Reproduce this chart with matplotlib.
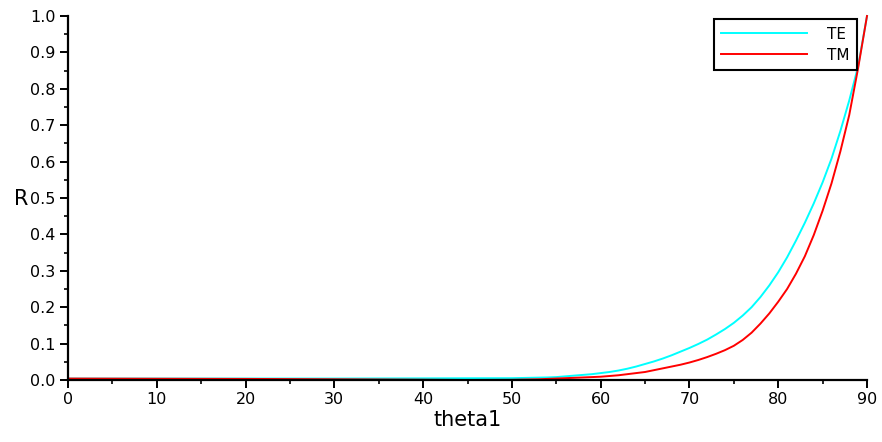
import matplotlib
matplotlib.use("Agg")
import matplotlib.pyplot as plt
from matplotlib.ticker import MultipleLocator, FormatStrFormatter

# values (angle in degrees, reflectance)
theta_te = [0, 10, 20, 30, 40, 45, 50, 51, 52, 53, 54, 55, 56, 57, 58, 59,
            60, 61, 62, 63, 64, 65, 66, 67, 68, 69, 70, 71, 72, 73, 74, 75,
            76, 77, 78, 79, 80, 81, 82, 83, 84, 85, 86, 87, 88, 89, 90]
r_te = [0.004, 0.004, 0.004, 0.004, 0.0045, 0.0048, 0.005, 0.0055, 0.006,
        0.0065, 0.007, 0.008, 0.010, 0.012, 0.014, 0.016, 0.019, 0.022,
        0.026, 0.031, 0.037, 0.044, 0.051, 0.059, 0.068, 0.078, 0.088,
        0.099, 0.111, 0.125, 0.140, 0.157, 0.177, 0.200, 0.228, 0.260,
        0.296, 0.337, 0.383, 0.432, 0.485, 0.543, 0.608, 0.684, 0.768,
        0.862, 1.0]

theta_tm = [0, 10, 20, 30, 40, 45, 50, 51, 52, 53, 54, 55, 56, 57, 58, 59,
            60, 61, 62, 63, 64, 65, 66, 67, 68, 69, 70, 71, 72, 73, 74, 75,
            76, 77, 78, 79, 80, 81, 82, 83, 84, 85, 86, 87, 88, 89, 90]
r_tm = [0.004, 0.0035, 0.003, 0.002, 0.0008, 0.0, 0.0005, 0.001, 0.0015,
        0.002, 0.003, 0.004, 0.005, 0.006, 0.007, 0.008, 0.009, 0.011,
        0.013, 0.016, 0.019, 0.022, 0.027, 0.032, 0.037, 0.042, 0.048,
        0.055, 0.063, 0.072, 0.082, 0.094, 0.110, 0.130, 0.155, 0.183,
        0.215, 0.250, 0.292, 0.340, 0.398, 0.465, 0.540, 0.628, 0.728,
        0.857, 1.0]

fig = plt.figure(figsize=(8.82, 4.42), dpi=100)
ax = fig.add_axes([68 / 882, 62 / 442, 799 / 882, 364 / 442])

ax.plot(theta_te, r_te, color="#00ffff", lw=1.4, label="TE", clip_on=False)
ax.plot(theta_tm, r_tm, color="#ff0000", lw=1.4, label="TM", clip_on=False)

ax.set_xlim(0, 90)
ax.set_ylim(0, 1)
for side in ("top", "right"):
    ax.spines[side].set_visible(False)
for side in ("left", "bottom"):
    ax.spines[side].set_linewidth(1.6)

ax.xaxis.set_major_locator(MultipleLocator(10))
ax.xaxis.set_minor_locator(MultipleLocator(5))
ax.yaxis.set_major_locator(MultipleLocator(0.1))
ax.yaxis.set_minor_locator(MultipleLocator(0.05))
ax.yaxis.set_major_formatter(FormatStrFormatter("%.1f"))
ax.tick_params(which="major", length=6, width=1.4, labelsize=11.5, pad=3)
ax.tick_params(which="minor", length=3, width=1.2)

ax.set_xlabel("theta1", fontsize=15, labelpad=2)
ax.set_ylabel("R", fontsize=15, rotation=0, labelpad=0)
ax.yaxis.set_label_coords(-0.058, 0.47)

leg = ax.legend(loc="upper right", bbox_to_anchor=(0.9875, 0.992),
                borderaxespad=0, fancybox=False, edgecolor="black",
                framealpha=1, fontsize=11, handlelength=5.6,
                handletextpad=1.3, borderpad=0.5, labelspacing=0.4)
leg.get_frame().set_linewidth(1.5)

fig.savefig("out.png", dpi=100)
